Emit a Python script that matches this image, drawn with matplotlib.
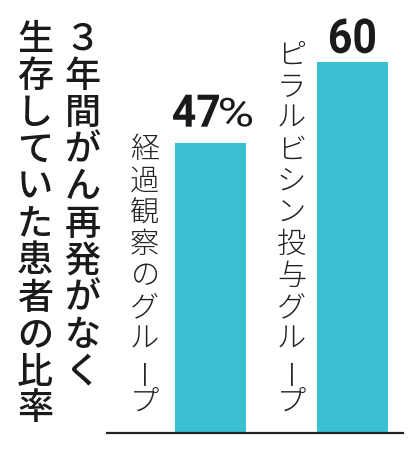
import matplotlib
matplotlib.use("Agg")
import matplotlib.pyplot as plt
from matplotlib.textpath import TextPath
from matplotlib.font_manager import FontProperties
from matplotlib.patches import PathPatch
import matplotlib.transforms as mt

# ---- data ----
categories = ["経過観察のグループ", "ピラルビシン投与グループ"]
values = [47, 60]
value_labels = ["47", "60"]
title_cols = ["３年間がん再発がなく", "生存していた患者の比率"]

W, H = 419, 450
BAR_COLOR = "#3bc0d2"
JP = ["Noto Sans CJK JP", "DejaVu Sans"]
TXT = "#1a1a1a"

fig = plt.figure(figsize=(W / 100, H / 100), dpi=100)
fig.patch.set_facecolor("white")
ax = fig.add_axes([107 / W, 1 - 433 / H, (403 - 107) / W, 433 / H])
x = list(range(len(values)))
ax.bar(x, values, width=0.5, color=BAR_COLOR)
ax.set_xlim(-0.729, 1.356)
ax.set_ylim(0, 70.1)
for s in ["top", "left", "right"]:
    ax.spines[s].set_visible(False)
ax.spines["bottom"].set_linewidth(1.6)
ax.spines["bottom"].set_color("#222222")
ax.set_xticks([])
ax.set_yticks([])
ax.patch.set_alpha(0)


def vtext(xc, top, text, pitch, size, weight, color=TXT):
    for i, ch in enumerate(text):
        y = top + pitch * (i + 0.5)
        rot = 90 if ch == "ー" else 0
        fig.text(xc / W, 1 - y / H, ch, ha="center", va="center",
                 fontsize=size, fontweight=weight, rotation=rot,
                 family=JP, color=color)


def squeezed(text, left_px, bottom_px, w_px, h_px, weight, family="Roboto"):
    """Draw text as a path scaled into a box given in display pixels (origin bottom-left)."""
    fp = FontProperties(family=[family, "DejaVu Sans"], weight=weight)
    tp = TextPath((0, 0), text, size=1, prop=fp)
    bb = tp.get_extents()
    tr = (mt.Affine2D().translate(-bb.x0, -bb.y0)
          .scale(w_px / bb.width, h_px / bb.height)
          .translate(left_px, bottom_px))
    fig.patches.append(PathPatch(tp, transform=tr, facecolor=TXT,
                                 edgecolor="none", figure=fig))


# title (vertical, right column first)
vtext(82.5, 21, title_cols[0], 37, 26, "medium")
vtext(35, 21, title_cols[1], 37, 26, "medium")

# category labels (vertical, left of each bar, bottom aligned)
label_off = [66, 61]
pitch = 31.5
for i, cat in enumerate(categories):
    cx, base = ax.transData.transform((i, 0))
    xc = cx - label_off[i]
    top = (H - base) - 15 - pitch * len(cat)
    vtext(xc, top, cat, pitch, 21, "light", color="#222222")

# value labels (condensed bold numerals above bars)
cx0, top0 = ax.transData.transform((0, values[0]))
squeezed(value_labels[0], cx0 - 37.5, top0 + 16, 46, 32, "bold")
squeezed("%", cx0 + 9.5, top0 + 16, 32, 29, "normal")
cx1, top1 = ax.transData.transform((1, values[1]))
squeezed(value_labels[1], cx1 - 22.5, top1 + 9, 45, 35, "bold")

fig.savefig("out.png", dpi=100)
